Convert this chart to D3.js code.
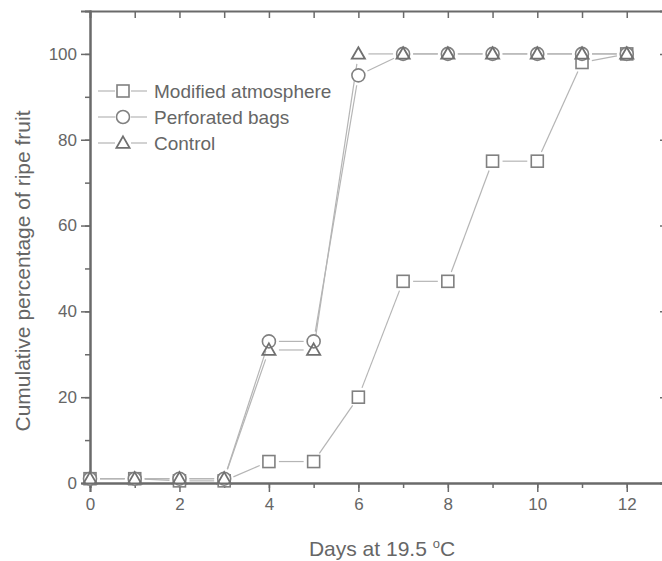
<!DOCTYPE html>
<html>
<head>
<meta charset="utf-8">
<script src="https://cdn.jsdelivr.net/npm/d3@7"></script>
<style>
  body { margin: 0; background: #fff; }
  text { font-family: "Liberation Sans", Arial, sans-serif; fill: #666; }
</style>
</head>
<body>
<svg id="chart" width="662" height="561"></svg>
<script>
// data
const days = [0, 1, 2, 3, 4, 5, 6, 7, 8, 9, 10, 11, 12];
const modifiedAtmosphere = [1, 1, 0.5, 0.5, 5, 5, 20, 47, 47, 75, 75, 98, 100];
const perforatedBags = [1, 1, 1, 1, 33, 33, 95, 100, 100, 100, 100, 100, 100];
const control = [1, 1, 1, 1, 31, 31, 100, 100, 100, 100, 100, 100, 100];
const seriesNames = ["Modified atmosphere", "Perforated bags", "Control"];
const seriesShapes = ["square", "circle", "triangle"];
const xTicks = [0, 2, 4, 6, 8, 10, 12];
const yTicks = [0, 20, 40, 60, 80, 100];

const svg = d3.select("#chart");
const axisColor = "#6a6a6a";

const x = d3.scaleLinear().domain([0, 12.9]).range([90, 667]);
const y = d3.scaleLinear().domain([0, 110]).range([483, 11]);

// minor ticks first so the major ones sit on top
const xMinor = d3.axisBottom(x).tickValues(d3.range(0, 13)).tickSize(5).tickFormat("");
const yMinor = d3.axisLeft(y).tickValues(d3.range(0, 110, 10)).tickSize(5).tickFormat("");

function styleAxis(g) {
  g.select(".domain").attr("stroke", axisColor).attr("stroke-width", 2);
  g.selectAll(".tick line").attr("stroke", axisColor).attr("stroke-width", 1.5);
  g.selectAll(".tick text").style("font-size", "17px").attr("fill", "#666");
}

svg.append("g").attr("transform", `translate(0,${y(0)})`).call(xMinor).call(styleAxis);
svg.append("g").attr("transform", `translate(${x(0)},0)`).call(yMinor).call(styleAxis);

svg.append("g")
  .attr("transform", `translate(0,${y(0)})`)
  .call(d3.axisBottom(x).tickValues(xTicks).tickSize(9).tickPadding(6))
  .call(styleAxis);

svg.append("g")
  .attr("transform", `translate(${x(0)},0)`)
  .call(d3.axisLeft(y).tickValues(yTicks).tickSize(9).tickPadding(4))
  .call(styleAxis);

// top and right frame with inward ticks
svg.append("g")
  .attr("transform", `translate(0,${y(110)})`)
  .call(d3.axisBottom(x).tickValues(d3.range(1, 13)).tickSize(7).tickFormat(""))
  .call(styleAxis);

svg.append("g")
  .attr("transform", `translate(${x(12.9)},0)`)
  .call(d3.axisLeft(y).tickValues(d3.range(0, 110, 20)).tickSize(7).tickFormat(""))
  .call(styleAxis);

// axis titles
const xTitle = svg.append("text")
  .attr("x", 382).attr("y", 556)
  .attr("text-anchor", "middle")
  .style("font-size", "21px")
  .text("Days at 19.5 ");
xTitle.append("tspan").attr("dy", -8).style("font-size", "13px").text("o");
xTitle.append("tspan").attr("dy", 8).text("C");

svg.append("text")
  .attr("transform", "translate(30,271) rotate(-90)")
  .attr("text-anchor", "middle")
  .style("font-size", "21px")
  .text("Cumulative percentage of ripe fruit");

function drawMarker(g, shape, cx, cy) {
  const s = { fill: "#fff", stroke: "#808080", width: 1.6 };
  if (shape === "square") {
    g.append("rect").attr("x", cx - 6).attr("y", cy - 6).attr("width", 12).attr("height", 12)
      .attr("fill", s.fill).attr("stroke", s.stroke).attr("stroke-width", s.width);
  } else if (shape === "circle") {
    g.append("circle").attr("cx", cx).attr("cy", cy).attr("r", 6.5)
      .attr("fill", s.fill).attr("stroke", s.stroke).attr("stroke-width", s.width);
  } else {
    const tri = d3.symbol().type(d3.symbolTriangle).size(75);
    g.append("path").attr("d", tri()).attr("transform", `translate(${cx},${cy + 1})`)
      .attr("fill", "none").attr("stroke", "#707070").attr("stroke-width", 1.8);
  }
}

const allSeries = [modifiedAtmosphere, perforatedBags, control];

// connecting lines, stopped short of the markers
allSeries.forEach(vals => {
  const g = svg.append("g");
  for (let i = 0; i < days.length - 1; i++) {
    const x1 = x(days[i]), y1 = y(vals[i]), x2 = x(days[i + 1]), y2 = y(vals[i + 1]);
    const len = Math.hypot(x2 - x1, y2 - y1);
    const gap = 10;
    if (len <= gap * 2) continue;
    const ux = (x2 - x1) / len, uy = (y2 - y1) / len;
    g.append("line")
      .attr("x1", x1 + ux * gap).attr("y1", y1 + uy * gap)
      .attr("x2", x2 - ux * gap).attr("y2", y2 - uy * gap)
      .attr("stroke", "#b5b5b5").attr("stroke-width", 1.2);
  }
});

allSeries.forEach((vals, k) => {
  const g = svg.append("g");
  vals.forEach((v, i) => drawMarker(g, seriesShapes[k], x(days[i]), y(v)));
});

// legend
const legend = svg.append("g");
seriesNames.forEach((name, k) => {
  const ly = 91 + k * 26;
  legend.append("line").attr("x1", 98).attr("x2", 115).attr("y1", ly).attr("y2", ly)
    .attr("stroke", "#b5b5b5").attr("stroke-width", 1.2);
  legend.append("line").attr("x1", 131).attr("x2", 147).attr("y1", ly).attr("y2", ly)
    .attr("stroke", "#b5b5b5").attr("stroke-width", 1.2);
  drawMarker(legend, seriesShapes[k], 123, ly);
  legend.append("text").attr("x", 154).attr("y", ly + 7)
    .style("font-size", "19px").text(name);
});
</script>
</body>
</html>
